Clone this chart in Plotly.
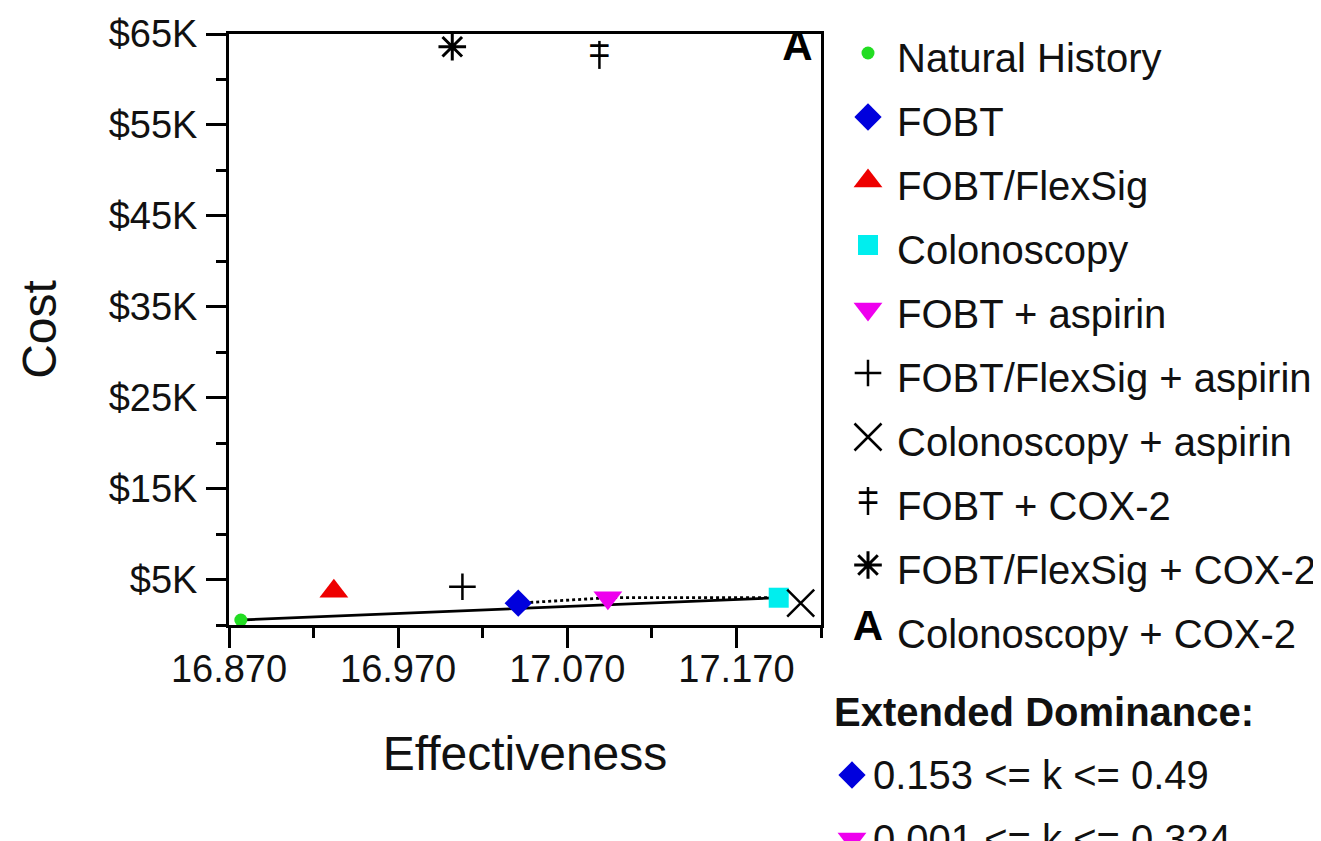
import plotly.graph_objects as go

# ---------------- data ----------------
strategies = ["Natural History", "FOBT", "FOBT/FlexSig", "Colonoscopy", "FOBT + aspirin",
              "FOBT/FlexSig + aspirin", "Colonoscopy + aspirin", "FOBT + COX-2",
              "FOBT/FlexSig + COX-2", "Colonoscopy + COX-2"]
effectiveness = [16.877, 17.041, 16.932, 17.195, 17.094, 17.008, 17.208, 17.089, 17.002, 17.206]
cost = [550, 2400, 3700, 3000, 3000, 4200, 2400, 62700, 63600, 63300]

frontier = ["Natural History", "Colonoscopy"]
extended_path = ["FOBT", "FOBT + aspirin", "Colonoscopy"]

ext_dom_strategies = ["FOBT", "FOBT + aspirin"]
ext_dom_labels = ["0.153 &lt;= k &lt;= 0.49", "0.001 &lt;= k &lt;= 0.324"]

x_tick_vals = [16.870, 16.970, 17.070, 17.170]
x_tick_text = ["16.870", "16.970", "17.070", "17.170"]
x_minor_vals = [16.920, 17.020, 17.120, 17.220]
y_tick_vals = [5000, 15000, 25000, 35000, 45000, 55000, 65000]
y_tick_text = ["$5K", "$15K", "$25K", "$35K", "$45K", "$55K", "$65K"]
y_minor_vals = [0, 10000, 20000, 30000, 40000, 50000, 60000]

# ---------------- styles ----------------
FONT = "Liberation Sans, Arial, sans-serif"
TXT = "#111111"
styles = {
    "Natural History":        [dict(kind="marker", symbol="circle", color="#22dd22", size=13, lw=0)],
    "FOBT":                   [dict(kind="marker", symbol="diamond", color="#0000dd", size=21, lw=0)],
    "FOBT/FlexSig":           [dict(kind="marker", symbol="triangle-up", color="#ee0000", size=25, lw=0)],
    "Colonoscopy":            [dict(kind="marker", symbol="square", color="#00eeee", size=20, lw=0)],
    "FOBT + aspirin":         [dict(kind="marker", symbol="triangle-down", color="#ee00ee", size=25, lw=0)],
    "FOBT/FlexSig + aspirin": [dict(kind="marker", symbol="cross-thin", color="#000000", size=19, lw=2.5)],
    "Colonoscopy + aspirin":  [dict(kind="marker", symbol="x-thin", color="#000000", size=27, lw=2.5)],
    "FOBT + COX-2":           [dict(kind="marker", symbol="line-ns", color="#000000", size=20, lw=2.5),
                               dict(kind="text", glyph="=", color="#000000", size=38, family=FONT)],
    "FOBT/FlexSig + COX-2":   [dict(kind="marker", symbol="asterisk", color="#000000", size=23, lw=3)],
    "Colonoscopy + COX-2":    [dict(kind="text", glyph="<b>A</b>", color="#000000", size=42, family=FONT)],
}


def mark_traces(name, xs, ys, xaxis="x", yaxis="y"):
    out = []
    for st in styles[name]:
        if st["kind"] == "marker":
            out.append(go.Scatter(
                x=xs, y=ys, mode="markers", name=name, showlegend=False,
                xaxis=xaxis, yaxis=yaxis, cliponaxis=False, hoverinfo="skip",
                marker=dict(symbol=st["symbol"], size=st["size"], color=st["color"],
                            line=dict(width=st["lw"], color=st["color"]))))
        else:
            out.append(go.Scatter(
                x=xs, y=ys, mode="text", name=name, showlegend=False,
                xaxis=xaxis, yaxis=yaxis, cliponaxis=False, hoverinfo="skip",
                text=[st["glyph"]] * len(xs), textposition="middle center",
                textfont=dict(family=st["family"], size=st["size"], color=st["color"])))
    return out


fig = go.Figure()
lookup = dict(zip(strategies, zip(effectiveness, cost)))

# frontier lines
fig.add_trace(go.Scatter(
    x=[lookup[s][0] for s in frontier], y=[lookup[s][1] for s in frontier],
    mode="lines", line=dict(color="black", width=2.8), showlegend=False, hoverinfo="skip"))
fig.add_trace(go.Scatter(
    x=[lookup[s][0] for s in extended_path], y=[lookup[s][1] for s in extended_path],
    mode="lines", line=dict(color="black", width=2.8, dash="dot"), showlegend=False, hoverinfo="skip"))

# data marks
for s, ex, c in zip(strategies, effectiveness, cost):
    for t in mark_traces(s, [ex], [c]):
        fig.add_trace(t)

# ---------------- page geometry ----------------
OFF = 8                      # browser body margin
PAGE_W, PAGE_H = 1321, 841
W, H = PAGE_W - OFF, PAGE_H - OFF
PL, PR, PT, PB = 229, 821, 34, 625   # plot box in page pixels

# ---------------- legend (drawn on a hidden page-pixel axis) ----------------
LEG_MARK_X = 868
LEG_TEXT_X = 895
LEG_ROW0 = 58
LEG_STEP = 64
annotations = []
for i, s in enumerate(strategies):
    yrow = LEG_ROW0 + LEG_STEP * i
    for t in mark_traces(s, [LEG_MARK_X], [yrow - 5], xaxis="x2", yaxis="y2"):
        fig.add_trace(t)
    annotations.append(dict(x=LEG_TEXT_X, y=yrow, xref="x2", yref="y2", text=s,
                            showarrow=False, xanchor="left", yanchor="middle",
                            font=dict(family=FONT, size=40, color=TXT)))

EXT_HEAD_Y = 712
EXT_ROW0 = 775
annotations.append(dict(x=832, y=EXT_HEAD_Y, xref="x2", yref="y2", text="<b>Extended Dominance:</b>",
                        showarrow=False, xanchor="left", yanchor="middle",
                        font=dict(family=FONT, size=40, color=TXT)))
for j, (s, lab) in enumerate(zip(ext_dom_strategies, ext_dom_labels)):
    yrow = EXT_ROW0 + LEG_STEP * j
    for t in mark_traces(s, [852], [yrow], xaxis="x2", yaxis="y2"):
        fig.add_trace(t)
    annotations.append(dict(x=871, y=yrow, xref="x2", yref="y2", text=lab,
                            showarrow=False, xanchor="left", yanchor="middle",
                            font=dict(family=FONT, size=40, color=TXT)))

fig.update_layout(
    width=W, height=H,
    margin=dict(l=0, r=0, t=0, b=0, pad=0, autoexpand=False),
    paper_bgcolor="white", plot_bgcolor="rgba(0,0,0,0)",
    font=dict(family=FONT, color=TXT),
    showlegend=False,
    annotations=annotations,
    xaxis=dict(
        domain=[(PL - OFF) / W, (PR - OFF) / W], range=[16.87, 17.22], anchor="y",
        automargin=False,
        tickmode="array", tickvals=x_tick_vals, ticktext=x_tick_text,
        ticks="outside", ticklen=20, tickwidth=3, tickcolor="black",
        minor=dict(tickmode="array", tickvals=x_minor_vals,
                   ticks="outside", ticklen=10, tickwidth=3, tickcolor="black", showgrid=False),
        showline=True, linewidth=3, linecolor="black", mirror=True,
        showgrid=False, zeroline=False,
        tickfont=dict(family=FONT, size=38, color=TXT),
        ticklabelstandoff=-12,
        title=dict(text="Effectiveness", font=dict(family=FONT, size=48, color=TXT), standoff=48),
    ),
    yaxis=dict(
        domain=[(PAGE_H - PB) / H, (PAGE_H - PT) / H], range=[0, 65000], anchor="x",
        automargin=False,
        tickmode="array", tickvals=y_tick_vals, ticktext=y_tick_text,
        ticks="outside", ticklen=20, tickwidth=3, tickcolor="black",
        minor=dict(tickmode="array", tickvals=y_minor_vals,
                   ticks="outside", ticklen=10, tickwidth=3, tickcolor="black", showgrid=False),
        showline=True, linewidth=3, linecolor="black", mirror=True,
        showgrid=False, zeroline=False,
        tickfont=dict(family=FONT, size=38, color=TXT),
        ticklabelstandoff=1,
        title=dict(text="Cost", font=dict(family=FONT, size=48, color=TXT), standoff=37),
    ),
    xaxis2=dict(domain=[0, 1], range=[OFF, PAGE_W], visible=False, anchor="y2", automargin=False),
    yaxis2=dict(domain=[0, 1], range=[PAGE_H, OFF], visible=False, anchor="x2", automargin=False),
)

fig.write_html("out.html")
